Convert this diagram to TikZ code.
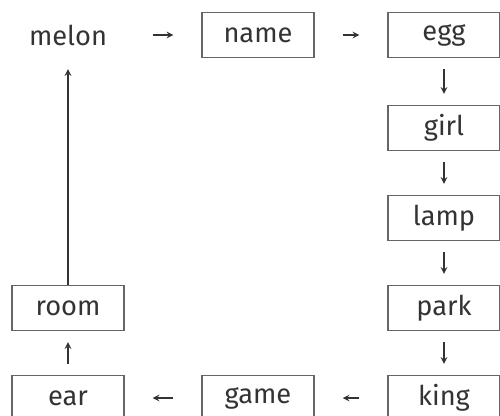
\documentclass[tikz,border=0pt]{standalone}
\usepackage{fontspec}
\setmainfont{Fira Sans}
\usepackage{tikz}
\usetikzlibrary{arrows,calc}
\definecolor{ink}{HTML}{333333}
\definecolor{rim}{HTML}{666666}

\begin{document}
\begin{tikzpicture}[
  wordbox/.style={draw=rim,line width=0.8pt,minimum width=2.24cm,minimum height=0.9cm,inner sep=0pt,text=ink,font=\fontsize{15.5}{18}\selectfont},
  plainword/.style={wordbox,draw=none},
  link/.style={draw=ink,line width=0.7pt,-stealth},
  hlink/.style={link,shorten >=0.56cm,shorten <=0.56cm},
  vlink/.style={link,shorten >=0.22cm,shorten <=0.22cm}]
\useasboundingbox (0,0) rectangle (10,-8.3);
\node[plainword] (melon) at (1.36,-0.7) {melon};
\node[wordbox] (name) at (5.16,-0.7) {name};
\node[wordbox] (egg) at (8.88,-0.7) {egg};
\node[wordbox] (girl) at (8.88,-2.56) {girl};
\node[wordbox] (lamp) at (8.88,-4.36) {lamp};
\node[wordbox] (park) at (8.88,-6.16) {park};
\node[wordbox] (king) at (8.88,-7.96) {king};
\node[wordbox] (game) at (5.16,-7.96) {game};
\node[wordbox] (ear) at (1.36,-7.96) {ear};
\node[wordbox] (room) at (1.36,-6.16) {room};
\draw[hlink] (melon) -- (name);
\draw[hlink] (name) -- (egg);
\draw[vlink] (egg) -- (girl);
\draw[vlink] (girl) -- (lamp);
\draw[vlink] (lamp) -- (park);
\draw[vlink] (park) -- (king);
\draw[hlink] (king) -- (game);
\draw[hlink] (game) -- (ear);
\draw[vlink] (ear) -- (room);
\draw[link,shorten >=0.22cm] (room) -- (melon);
\end{tikzpicture}
\end{document}
